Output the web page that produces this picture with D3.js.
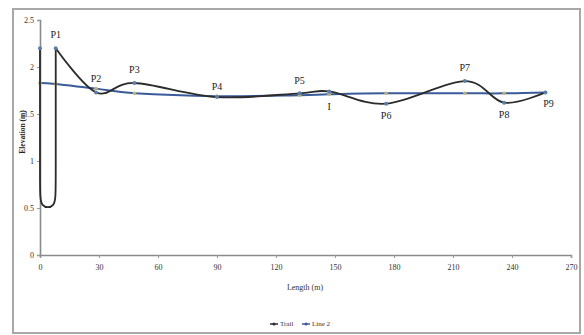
<!DOCTYPE html>
<html>
<head>
<meta charset="utf-8">
<script src="https://cdn.jsdelivr.net/npm/d3@7"></script>
<style>
  html, body { margin: 0; padding: 0; background: #fff; }
  svg { display: block; }
  text { font-family: "Liberation Serif", "DejaVu Serif", serif; }
</style>
</head>
<body>
<svg id="chart" width="584" height="335"></svg>
<script>
// Start loop of the trail (descends at 0 m, turns at ~0.5 m, climbs back at 8 m)
const loopX = [0, 0, 0, 8, 8, 8];
const loopY = [2.2, 0.7, 0.5, 0.5, 0.7, 2.2];
// Surveyed trail profile from P1 onwards
const trailX = [8, 28.5, 48, 90, 132, 147, 176, 216, 236, 257];
const trailY = [2.2, 1.73, 1.83, 1.68, 1.72, 1.74, 1.61, 1.85, 1.62, 1.73];
const pointLabels = ["P1", "P2", "P3", "P4", "P5", "I", "P6", "P7", "P8", "P9"];
// Reference line
const lineX = [0, 8, 28.5, 48, 90, 132, 147, 176, 216, 236, 257];
const lineY = [1.83, 1.82, 1.77, 1.72, 1.69, 1.70, 1.71, 1.72, 1.72, 1.72, 1.73];
const xTicks = [0, 30, 60, 90, 120, 150, 180, 210, 240, 270];
const yTicks = [0, 0.5, 1, 1.5, 2, 2.5];
const seriesNames = ["Trail", "Line 2"];

const svg = d3.select("#chart");

// outer frame
svg.append("rect")
  .attr("x", 13).attr("y", 9).attr("width", 567).attr("height", 324)
  .attr("fill", "#fff").attr("stroke", "#a8a8a8").attr("stroke-width", 2);

const x = d3.scaleLinear().domain([0, 270]).range([40, 571]);
const y = d3.scaleLinear().domain([0, 2.5]).range([255, 20]);

// axes
const xAxis = d3.axisBottom(x).tickValues(xTicks).tickSize(3).tickFormat(d3.format("d"));
const yAxis = d3.axisLeft(y).tickValues(yTicks).tickSize(3).tickFormat(d => String(d));

const gx = svg.append("g").attr("transform", `translate(0,${y(0)})`).call(xAxis);
const gy = svg.append("g").attr("transform", `translate(${x(0)},0)`).call(yAxis);
[gx, gy].forEach(g => {
  g.select(".domain").attr("stroke", "#8a8a8a").attr("stroke-width", 1.6);
  g.selectAll(".tick line").attr("stroke", "#9a9a9a");
  g.selectAll(".tick text").attr("fill", "#333").style("font-size", "8px")
    .style("font-family", "'Liberation Serif', serif");
});
gx.selectAll(".tick text").attr("dy", "1.1em");

// axis titles
svg.append("text").attr("x", 305).attr("y", 290).attr("text-anchor", "middle")
  .style("font-size", "8px").attr("fill", "#333").text("Length (m)");
svg.append("text").attr("transform", "translate(25,132) rotate(-90)")
  .attr("text-anchor", "middle").style("font-size", "7.5px").style("font-weight", "bold")
  .attr("fill", "#222").text("Elevation (m)");

const smooth = d3.line().x(d => x(d[0])).y(d => y(d[1])).curve(d3.curveCardinal.tension(0));
const rounded = d3.line().x(d => x(d[0])).y(d => y(d[1])).curve(d3.curveBasis);

// reference line
const lineData = lineX.map((d, i) => [d, lineY[i]]);
svg.append("path").datum(lineData)
  .attr("fill", "none").attr("stroke", "#3a5b9a").attr("stroke-width", 2)
  .attr("d", smooth);
svg.selectAll("circle.lm").data(lineData).enter().append("circle")
  .attr("class", "lm").attr("cx", d => x(d[0])).attr("cy", d => y(d[1])).attr("r", 1.8)
  .attr("fill", "#b9b27a");

// trail: start loop, then the smoothed profile
const loopData = loopX.map((d, i) => [d, loopY[i]]);
const trailData = trailX.map((d, i) => [d, trailY[i]]);
svg.append("path").datum(loopData)
  .attr("fill", "none").attr("stroke", "#2b2b2b").attr("stroke-width", 1.8)
  .attr("d", rounded);
svg.append("path").datum(trailData)
  .attr("fill", "none").attr("stroke", "#2b2b2b").attr("stroke-width", 1.8)
  .attr("d", smooth);
svg.selectAll("circle.tm").data([loopData[0]].concat(trailData)).enter().append("circle")
  .attr("class", "tm").attr("cx", d => x(d[0])).attr("cy", d => y(d[1])).attr("r", 2)
  .attr("fill", "#5a7fa8");

// point labels
const labelOffset = { P1: -12, P2: -13, P3: -12, P4: -9, P5: -12, I: 16, P6: 13, P7: -12, P8: 13, P9: 12 };
const labelDx = { P9: 3 };
svg.selectAll("text.pl").data(trailData.map((d, i) => [d, pointLabels[i]]))
  .enter().append("text").attr("class", "pl")
  .attr("x", d => x(d[0][0]) + (labelDx[d[1]] || 0))
  .attr("y", d => y(d[0][1]) + labelOffset[d[1]])
  .attr("text-anchor", "middle").attr("dominant-baseline", "middle")
  .style("font-size", "10px").attr("fill", "#222").text(d => d[1]);

// legend
const legend = svg.append("g").attr("transform", "translate(270,324)");
const colors = ["#2b2b2b", "#3a5b9a"];
const offsets = [0, 32];
seriesNames.forEach((name, i) => {
  const g = legend.append("g").attr("transform", `translate(${offsets[i]},0)`);
  g.append("line").attr("x1", 0).attr("x2", 8).attr("y1", 0).attr("y2", 0)
    .attr("stroke", colors[i]).attr("stroke-width", 1.5);
  g.append("circle").attr("cx", 4).attr("cy", 0).attr("r", 1.5).attr("fill", colors[i]);
  g.append("text").attr("x", 10).attr("y", 0).attr("dominant-baseline", "middle")
    .style("font-size", "7px").attr("fill", "#333").text(name);
});
</script>
</body>
</html>
